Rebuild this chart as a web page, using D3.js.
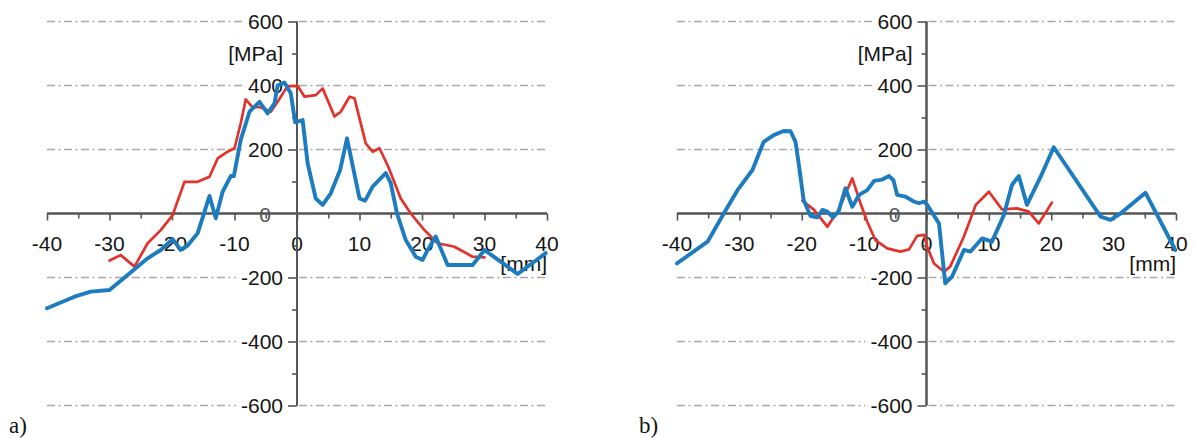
<!DOCTYPE html>
<html>
<head>
<meta charset="utf-8">
<script src="https://cdn.jsdelivr.net/npm/d3@7"></script>
<style>
  html, body { margin: 0; padding: 0; background: #fff; }
  svg { display: block; }
  text { font-family: "Liberation Sans", Arial, Helvetica, sans-serif; fill: #151515; }
</style>
</head>
<body>
<svg id="chart" width="1195" height="438"></svg>
<script>
// Position along the weld [mm] and residual stress [MPa]
const aRedX  = [-30, -28.2, -26, -23.9, -21.8, -19.9, -18, -15.9, -14, -12.7, -11.1, -10, -9, -8.2, -7.1, -5.8, -4.2, -3.1, -1.5, 0.1, 1.2, 3, 4.1, 6, 7, 8.4, 9.2, 11, 12.1, 13.2, 14.6, 16.6, 18.2, 20.4, 22.5, 25.2, 28.1, 30];
const aRedY  = [-147, -130, -166, -93, -52, -5, 99, 99, 115, 172, 193, 204, 282, 357, 332, 332, 318, 349, 398, 399, 365, 370, 391, 303, 318, 365, 360, 219, 193, 204, 146, 47, 0, -52, -93, -104, -135, -137];

const aBlueX = [-40, -35.6, -33, -30, -26, -23.9, -21.8, -19.9, -18.6, -17.5, -15.9, -14, -13, -11.9, -10.6, -10.1, -9, -7.6, -6, -4.7, -3.6, -3.1, -2, -1, -0.3, 0.9, 1.7, 3, 4.1, 5.4, 6.9, 8, 10, 10.9, 12.1, 14.2, 15, 16, 17.4, 19, 20.1, 20.9, 22.2, 24.1, 28.1, 30, 32.9, 35.3, 39.8];
const aBlueY = [-296, -260, -244, -239, -174, -140, -114, -80, -114, -100, -62, 55, -15, 68, 117, 117, 230, 318, 349, 313, 344, 400, 409, 376, 285, 292, 157, 47, 27, 63, 136, 235, 47, 40, 84, 126, 95, 0, -83, -135, -145, -114, -72, -161, -161, -114, -155, -189, -124];

const bRedX  = [-19.9, -18.1, -15.9, -14.1, -11.9, -10.6, -9.5, -8.2, -6.3, -4.2, -2.8, -1.5, -0.4, 0.1, 1.2, 2.8, 3.8, 6, 7.9, 10, 12.1, 14.5, 16.4, 18, 20.1];
const bRedY  = [40, 13, -41, 11, 110, 33, -26, -83, -109, -119, -112, -70, -67, -104, -156, -182, -166, -72, 27, 68, 13, 16, 6, -31, 34];

const bBlueX = [-40, -35.1, -32.5, -30.3, -27.9, -26.1, -24.5, -22.9, -21.8, -21, -20.5, -19.7, -18.6, -17.5, -16.7, -15.9, -15, -14.1, -13, -11.9, -10.8, -9.5, -8.4, -7.1, -6, -5.3, -4.7, -3.4, -2, -1.2, -0.4, 0.1, 2, 3, 4.1, 6, 7.05, 8.9, 10.5, 12.4, 13.7, 14.8, 16.1, 18.3, 20.4, 27.9, 29.5, 31.1, 35.1, 39.9];
const bBlueY = [-156, -88, 0, 73, 136, 224, 245, 258, 257, 224, 157, 42, -8, -12, 11, 6, -12, 6, 79, 21, 58, 73, 102, 106, 117, 104, 58, 53, 37, 32, 37, 27, -31, -218, -197, -114, -119, -78, -88, -5, 89, 117, 27, 115, 207, -10, -20, 0, 65, -114];

// Axis ticks and labels
const xTickValues = [-40, -30, -20, -10, 0, 10, 20, 30, 40];
const xMinorTicks = [-35, -25, -15, -5, 5, 15, 25, 35];
const yTickValues = [-600, -400, -200, 0, 200, 400, 600];
const yMinorTicks = [-500, -300, -100, 100, 300, 500];
const gridValues  = [-600, -400, -200, 200, 400, 600];
const xUnit = "[mm]";
const yUnit = "[MPa]";
const panelLabels = ["a)", "b)"];

const RED = "#e1332b";
const BLUE = "#1c7cbf";
const AXIS = "#555";
const GRID = "#a9a9a9";

const panels = [
  { tag: panelLabels[0], x0: 47,  x1: 547,  series: [
      { xs: aRedX,  ys: aRedY,  color: RED,  width: 2.7 },
      { xs: aBlueX, ys: aBlueY, color: BLUE, width: 3.9 }] },
  { tag: panelLabels[1], x0: 677, x1: 1176, series: [
      { xs: bRedX,  ys: bRedY,  color: RED,  width: 2.7 },
      { xs: bBlueX, ys: bBlueY, color: BLUE, width: 3.9 }] }
];

// plain hyphen-minus labels
const fmt = v => String(v);

const svg = d3.select("#chart");
svg.append("rect").attr("width", 1195).attr("height", 438).attr("fill", "#fff");

const y = d3.scaleLinear().domain([-600, 600]).range([405.5, 21.5]);

panels.forEach(p => {
  const x = d3.scaleLinear().domain([-40, 40]).range([p.x0, p.x1]);
  const ax = x(0), ay = y(0);
  const g = svg.append("g");

  // y tick labels first, so grid lines can stop short of them
  const labelG = g.append("g");
  const labelLeft = {};
  yTickValues.forEach(v => {
    const isZero = v === 0;
    const t = labelG.append("text")
      .attr("x", isZero ? ax - 26 : ax - 14)
      .attr("y", y(v) + (isZero ? 1 : 0))
      .attr("dy", "0.35em")
      .attr("text-anchor", "end")
      .style("font-size", "21px")
      .style("fill", isZero ? "#555" : "#151515")
      .text(fmt(v));
    labelLeft[v] = (isZero ? ax - 26 : ax - 14) - t.node().getComputedTextLength();
  });

  // dash-dot grid lines
  const gridG = g.insert("g", ":first-child");
  gridValues.forEach(v => {
    gridG.append("line")
      .attr("x1", x(-40)).attr("x2", labelLeft[v] - 5)
      .attr("y1", y(v)).attr("y2", y(v))
      .attr("stroke", GRID).attr("stroke-width", 1.5)
      .attr("stroke-dasharray", "8,3.5,2,3.5");
    gridG.append("line")
      .attr("x1", ax + 2).attr("x2", x(40))
      .attr("y1", y(v)).attr("y2", y(v))
      .attr("stroke", GRID).attr("stroke-width", 1.5)
      .attr("stroke-dasharray", "8,3.5,2,3.5");
  });

  // x axis through the origin, ticks pointing down
  const xAxis = d3.axisBottom(x).tickValues(xTickValues).tickSize(7).tickFormat("");
  const xg = g.append("g").attr("transform", `translate(0,${ay})`).call(xAxis);
  const xMinor = d3.axisBottom(x).tickValues(xMinorTicks).tickSize(5).tickFormat("");
  const xmg = g.append("g").attr("transform", `translate(0,${ay})`).call(xMinor);
  [xg, xmg].forEach(s => {
    s.select(".domain").attr("stroke", AXIS).attr("stroke-width", 2)
      .attr("d", `M${x(-40)},0H${x(40)}`);
    s.selectAll(".tick line").attr("stroke", AXIS).attr("stroke-width", 1.6);
  });

  xTickValues.forEach(v => {
    g.append("text")
      .attr("x", x(v)).attr("y", ay + 37)
      .attr("text-anchor", "middle")
      .style("font-size", "21px")
      .text(fmt(v));
  });

  // y axis through the origin, ticks pointing left
  const yAxis = d3.axisLeft(y).tickValues(yTickValues).tickSize(9).tickFormat("");
  const yg = g.append("g").attr("transform", `translate(${ax},0)`).call(yAxis);
  const yMinor = d3.axisLeft(y).tickValues(yMinorTicks).tickSize(5).tickFormat("");
  const ymg = g.append("g").attr("transform", `translate(${ax},0)`).call(yMinor);
  [yg, ymg].forEach(s => {
    s.select(".domain").attr("stroke", AXIS).attr("stroke-width", 2)
      .attr("d", `M0,${y(600)}V${y(-600)}`);
    s.selectAll(".tick line").attr("stroke", AXIS).attr("stroke-width", 1.6);
  });
  yg.selectAll(".tick").filter(d => d === 0).select("line").attr("x2", 0);

  // unit labels
  g.append("text").attr("x", ax - 14).attr("y", y(500) + 7.5)
    .attr("text-anchor", "end").style("font-size", "21px").text(yUnit);
  g.append("text").attr("x", x(40)).attr("y", ay + 57)
    .attr("text-anchor", "end").style("font-size", "21px").text(xUnit);

  // measured stress profiles
  const line = d3.line().x(d => x(d[0])).y(d => y(d[1])).curve(d3.curveLinear);
  p.series.forEach(s => {
    g.append("path")
      .datum(d3.zip(s.xs, s.ys))
      .attr("d", line)
      .attr("fill", "none")
      .attr("stroke", s.color)
      .attr("stroke-width", s.width)
      .attr("stroke-linejoin", "round")
      .attr("stroke-linecap", "round");
  });

  // panel tag
  svg.append("text")
    .attr("x", p.x0 - 38).attr("y", 433)
    .style("font-family", "'Liberation Serif', 'Times New Roman', serif")
    .style("font-size", "23px")
    .text(p.tag);
});
</script>
</body>
</html>
